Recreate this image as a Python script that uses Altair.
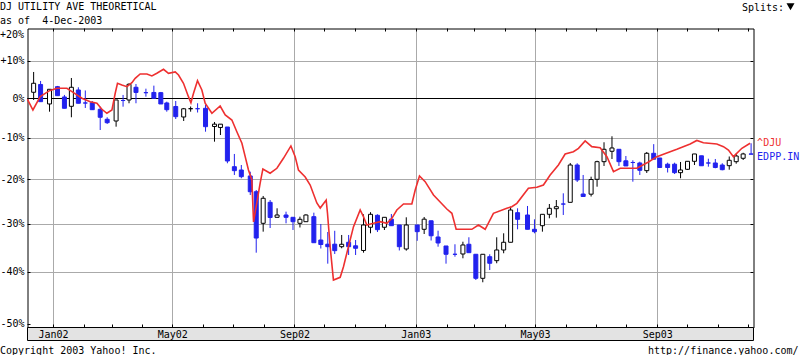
import altair as alt
import pandas as pd

BASE = pd.Timestamp("2002-01-01")
BLUE = "#2222ee"
RED = "#ee3030"
GRID = "#aaaaaa"
FONT = "DejaVu Sans Mono"

# EDPP.IN weekly candles: day offsets after 2002-01-01, values in % change
ed_day = [-20, -13, -4, 4, 11, 18, 25, 32, 39, 47,
          54, 63, 70, 76, 83, 93, 101, 108, 114, 123,
          131, 138, 145, 153, 162, 168, 175, 182, 189, 198,
          204, 211, 218, 225, 234, 241, 248, 254, 262, 269,
          276, 283, 290, 297, 304, 312, 319, 326, 333, 340,
          348, 355, 366, 373, 380, 387, 395, 404, 412, 418,
          425, 432, 439, 446, 453, 460, 467, 477, 484, 492,
          499, 506, 513, 520, 527, 533, 541, 547, 554, 562,
          569, 576, 583, 590, 597, 604, 610, 618, 625, 631,
          638, 645, 652, 659, 666, 673, 680, 687, 694, 702]
ed_open = [1.65, 3.70, -1.39, 3.12, 0.42, -1.99, 2.25, -1.13, -1.06, -2.76,
           -5.30, -5.73, -0.49, -0.36, 2.96, 1.55, 1.60, 1.55, -1.13, -2.04,
           -4.72, -2.61, -2.60, -2.50, -7.11, -7.36, -7.24, -16.90, -17.68, -19.08,
           -22.72, -29.76, -25.12, -28.45, -27.94, -28.45, -29.76, -29.41, -28.31, -33.35,
           -34.23, -34.23, -34.76, -33.83, -34.57, -35.55, -30.62, -28.01, -30.62, -28.86,
           -30.13, -35.24, -30.13, -31.06, -29.21, -32.71, -34.61, -36.34, -36.28, -34.25,
           -36.34, -41.22, -36.84, -37.66, -35.45, -33.83, -27.43, -27.94, -31.06, -30.28,
           -27.79, -26.55, -25.50, -25.12, -16.50, -23.24, -23.28, -19.86, -15.71, -13.21,
           -12.73, -15.50, -15.90, -16.02, -17.84, -13.70, -14.83, -16.31, -16.31, -18.31,
           -17.52, -15.62, -14.30, -16.02, -16.02, -16.50, -16.66, -15.71, -14.90, -13.86]
ed_high = [7.03, 4.63, 2.43, 3.31, 0.95, 5.42, 2.96, 2.12, -0.62, -2.09,
           -4.79, -0.36, 0.95, 4.02, 3.83, 2.59, 3.39, 1.73, -0.80, -0.62,
           -2.42, -2.04, -1.21, -1.65, -5.98, -6.53, -7.24, -13.86, -16.50, -18.08,
           -22.33, -23.69, -24.60, -26.46, -27.21, -28.45, -28.31, -27.79, -27.43, -29.91,
           -31.64, -31.38, -32.28, -32.28, -33.35, -27.79, -27.32, -27.79, -28.45, -27.72,
           -30.13, -28.45, -30.13, -28.38, -29.21, -31.36, -34.61, -34.25, -33.71, -32.77,
           -36.34, -36.34, -36.34, -32.77, -31.92, -26.10, -26.46, -25.94, -28.89, -27.79,
           -25.50, -24.60, -23.08, -16.02, -16.09, -18.85, -19.25, -15.48, -11.02, -9.55,
           -12.73, -14.35, -15.38, -15.71, -13.38, -11.48, -14.83, -15.95, -15.95, -15.78,
           -15.62, -13.86, -14.30, -15.00, -15.07, -16.09, -14.47, -13.79, -13.57, -11.27]
ed_low = [-0.36, -0.80, -3.37, 0.76, -2.50, -4.79, -1.21, -2.42, -2.94, -7.99,
          -6.48, -7.16, -2.09, -1.21, -1.21, 0.50, 0.08, -1.39, -3.37, -5.23,
          -5.73, -3.37, -3.58, -8.41, -10.87, -9.23, -16.09, -18.85, -19.62, -23.47,
          -36.01, -31.57, -30.78, -28.45, -29.76, -31.21, -30.67, -29.41, -33.92, -35.14,
          -38.27, -36.28, -35.09, -36.49, -36.49, -36.01, -31.92, -31.64, -31.21, -30.28,
          -35.55, -35.59, -33.52, -32.07, -33.46, -34.76, -38.27, -36.84, -37.17, -36.01,
          -41.56, -42.01, -39.56, -38.19, -36.13, -33.83, -31.06, -31.06, -31.92, -31.57,
          -28.67, -28.53, -27.94, -25.12, -20.48, -23.81, -23.81, -21.57, -16.73, -15.07,
          -16.73, -16.73, -20.41, -18.85, -18.38, -15.12, -17.09, -18.27, -18.62, -19.62,
          -17.68, -16.50, -16.68, -16.90, -17.28, -17.75, -17.61, -16.19, -15.31, -13.91]
ed_close = [4.02, -0.80, 2.43, 0.76, -2.50, 2.96, -1.21, -1.15, -2.86, -4.79,
            -6.16, -0.36, -0.50, 3.75, 1.60, 1.54, 0.08, -1.39, -2.86, -4.64,
            -2.63, -2.60, -2.61, -7.16, -6.53, -6.53, -15.55, -17.84, -19.25, -22.72,
            -32.93, -24.21, -28.49, -27.94, -28.45, -29.41, -28.89, -27.94, -33.92, -34.30,
            -34.76, -35.59, -34.25, -34.76, -35.09, -30.13, -27.79, -31.14, -28.45, -30.28,
            -34.76, -30.13, -31.57, -28.86, -32.45, -33.98, -36.34, -36.35, -34.40, -36.01,
            -41.22, -36.34, -38.19, -35.45, -33.83, -26.84, -28.89, -31.06, -31.57, -27.79,
            -26.46, -26.10, -25.51, -16.50, -20.02, -23.81, -19.91, -15.71, -12.73, -12.41,
            -15.71, -16.73, -15.91, -17.75, -13.70, -15.12, -17.09, -17.09, -18.31, -17.68,
            -15.62, -13.86, -16.68, -16.03, -17.09, -17.61, -15.38, -14.35, -13.86, -13.91]

# ^DJU line: day offsets after 2002-01-01, % change
dju_day = [-26.2, -20.7, -13.4, -4.0, 3.4, 13.5, 20.1, 28.6, 36.9, 43.7,
           48.7, 53.7, 58.8, 62.1, 64.4, 68.8, 73.9, 78.9, 82.2, 87.2,
           94.0, 99.0, 104.0, 110.7, 115.7, 122.5, 125.8, 130.8, 135.8, 138.3,
           140.9, 144.9, 149.3, 152.6, 159.4, 167.7, 172.8, 179.5, 184.5, 189.6,
           192.9, 196.2, 199.6, 200.4, 201.3, 208.0, 210.7, 218.0, 224.8, 231.4,
           238.9, 243.2, 246.5, 253.3, 258.3, 265.0, 268.4, 274.4, 275.7, 278.4,
           281.7, 288.5, 291.8, 296.8, 301.9, 308.6, 311.9, 315.3, 322.0, 328.7,
           335.5, 340.5, 345.5, 352.2, 360.6, 364.0, 368.3, 374.0, 382.4, 389.1,
           395.8, 400.9, 405.2, 421.0, 427.6, 434.4, 442.7, 456.2, 461.2, 466.3,
           477.9, 486.4, 493.0, 499.8, 508.1, 514.9, 523.2, 528.3, 535.0, 541.7,
           550.1, 556.9, 563.5, 570.3, 587.0, 598.7, 607.2, 613.8, 627.3, 640.7,
           647.4, 654.0, 667.5, 674.2, 679.2, 684.2, 692.7, 701.0]
dju_pct = [-0.18, -2.94, 0.50, 2.07, 2.70, 2.70, 1.55, 0.08, -0.80, -1.21,
           -2.76, -3.78, -2.94, 1.39, 4.02, 3.57, 3.12, 4.18, 5.34, 6.49,
           6.49, 5.96, 6.68, 7.75, 6.68, 7.03, 6.23, 4.02, 0.50, -1.06,
           1.39, 4.71, 2.25, -1.21, -3.78, -1.91, -4.21, -5.48, -8.41, -11.27,
           -14.51, -17.68, -20.02, -24.60, -29.47, -20.71, -17.44, -18.45, -17.28, -14.90,
           -11.92, -14.51, -17.68, -19.32, -21.18, -25.27, -26.39, -24.60, -27.50, -34.76,
           -41.56, -41.02, -38.89, -34.76, -30.49, -26.84, -28.31, -30.13, -29.76, -29.41,
           -29.76, -28.67, -26.84, -25.50, -25.50, -22.33, -19.08, -20.41, -23.47, -25.05,
           -26.62, -27.57, -31.06, -31.06, -30.13, -31.06, -27.57, -26.46, -26.10, -25.34,
           -21.94, -21.71, -21.18, -18.85, -16.50, -13.86, -13.31, -12.49, -10.70, -12.09,
           -12.34, -14.51, -18.08, -17.28, -17.28, -15.78, -14.51, -13.93, -12.73, -11.44,
           -10.58, -11.12, -11.44, -12.09, -12.90, -14.51, -12.49, -11.27]

y_levels = [-50, -40, -30, -20, -10, 0, 10]


def ratio(vals):
    return [1 + v / 100.0 for v in vals]


candles = pd.DataFrame({
    "date": BASE + pd.to_timedelta(ed_day, unit="D"),
    "o": ratio(ed_open), "h": ratio(ed_high),
    "l": ratio(ed_low), "c": ratio(ed_close),
})
candles["dir"] = ["up" if c >= o else "down" for o, c in zip(ed_open, ed_close)]

dju = pd.DataFrame({"date": BASE + pd.to_timedelta(dju_day, unit="D"),
                    "v": ratio(dju_pct)})

d_start = pd.Timestamp("2001-12-05 20:00")
d_end = pd.Timestamp("2003-12-06 10:00")
x_scale = alt.Scale(domain=[alt.DateTime(year=2001, month=12, date=5, hours=20),
                            alt.DateTime(year=2003, month=12, date=6, hours=10)],
                    nice=False, padding=0)
y_scale = alt.Scale(type="sqrt", domain=[0.49393, 1.19030], zero=False, nice=False, padding=0)

month_vals = [alt.DateTime(year=y, month=m, date=1) for y in (2002, 2003) for m in range(1, 13)]
y_vals = ratio(y_levels)

x_grid_axis = alt.Axis(orient="bottom", values=month_vals, grid=True, gridColor=GRID,
                       gridOpacity={"condition": {"test": "month(datum.value) % 4 == 0", "value": 1}, "value": 0},
                       labels=False, ticks=False, domain=False, title=None, translate=0)
x_label_axis = alt.Axis(orient="bottom", values=month_vals, grid=False, domain=False,
                        ticks=True, tickSize=3, tickColor="black", offset=-3,
                        labelExpr="month(datum.value) % 4 == 0 ? timeFormat(datum.value, '%b%y') : ''",
                        labelFont=FONT, labelFontSize=10, labelColor="black", labelPadding=2,
                        labelAngle=0, labelOverlap=False, labelFlush=False, zindex=1,
                        title=None, translate=0)
x_top_axis = alt.Axis(orient="top", values=month_vals, grid=False, domain=False,
                      ticks=True, tickSize=3, tickColor="black", offset=-3,
                      labels=False, title=None, translate=0)
y_left_axis = alt.Axis(orient="left", values=y_vals, grid=True,
                       gridColor={"condition": {"test": "abs(datum.value - 1) < 0.001", "value": "black"}, "value": GRID},
                       gridOpacity={"condition": {"test": "datum.value < 0.55", "value": 0}, "value": 1},
                       domain=False, ticks=True, tickSize=3, tickColor="black", offset=-3,
                       labelExpr="(datum.value > 1.0001 ? '+' : '') + round((datum.value - 1) * 100) + '%'",
                       labelFont=FONT, labelFontSize=10, labelColor="black", labelPadding=3,
                       labelOverlap=False, labelFlush=False, title=None, translate=0)
y_right_axis = alt.Axis(orient="right", values=y_vals[1:], grid=False, domain=False,
                        ticks=True, tickSize=3, tickColor="black", offset=-3,
                        labels=False, title=None, translate=0)

band = alt.Chart(pd.DataFrame({"start": [d_start], "end": [d_end]})).mark_rect(
    fill="#e3e3e3", stroke="black", strokeWidth=1
).encode(
    x=alt.X("start:T", scale=x_scale, axis=None), x2="end:T",
    y=alt.value(299), y2=alt.value(312),
)

wick = alt.Chart(candles).mark_rule(strokeWidth=1).encode(
    x=alt.X("date:T", scale=x_scale, axis=x_grid_axis),
    y=alt.Y("l:Q", scale=y_scale, axis=y_left_axis),
    y2="h:Q",
    color=alt.Color("dir:N", scale=alt.Scale(domain=["down", "up"], range=[BLUE, "black"]), legend=None),
)

body = alt.Chart(candles).mark_bar(size=4, strokeWidth=1).encode(
    x=alt.X("date:T", scale=x_scale, axis=x_label_axis),
    y=alt.Y("o:Q", scale=y_scale, axis=y_right_axis),
    y2="c:Q",
    fill=alt.Fill("dir:N", scale=alt.Scale(domain=["down", "up"], range=[BLUE, "white"]), legend=None),
    stroke=alt.Stroke("dir:N", scale=alt.Scale(domain=["down", "up"], range=[BLUE, "black"]), legend=None),
)

line = alt.Chart(dju).mark_line(color=RED, strokeWidth=1.6).encode(
    x=alt.X("date:T", scale=x_scale, axis=x_top_axis),
    y=alt.Y("v:Q", scale=y_scale, axis=None),
)

dju_lab = alt.Chart(dju.tail(1)).mark_text(
    align="left", baseline="middle", dx=7, font=FONT, fontSize=10, color=RED
).encode(x=alt.X("date:T", scale=x_scale, axis=None),
         y=alt.Y("v:Q", scale=y_scale, axis=None), text=alt.value("^DJU"))

ed_lab = alt.Chart(candles.tail(1)).mark_text(
    align="left", baseline="middle", dx=6, dy=3, font=FONT, fontSize=10, color=BLUE
).encode(x=alt.X("date:T", scale=x_scale, axis=None),
         y=alt.Y("c:Q", scale=y_scale, axis=None), text=alt.value("EDPP.IN"))


def note(text, x, y, align="left", color="black", size=10):
    return alt.Chart(pd.DataFrame({"t": [text]})).mark_text(
        align=align, baseline="alphabetic", font=FONT, fontSize=size, color=color
    ).encode(text="t:N", x=alt.value(x), y=alt.value(y))


t_title = note("DJ UTILITY AVE THEORETICAL", -27.5, -18.5)
t_sub = note("as of \u00a04-Dec-2003", -27.5, -4.5)
t_splits = note("Splits:", 714.5, -18)
t_tri = alt.Chart(pd.DataFrame({"t": [1]})).mark_point(
    shape="triangle-down", filled=True, size=64, color="black", opacity=1
).encode(x=alt.value(763), y=alt.value(-21.8))
t_top = note("+20%", -3.5, 9.2, align="right")
t_copy = note("Copyright 2003 Yahoo! Inc.", -27.5, 325.5)
t_url = note("http://finance.yahoo.com/", 771, 325.5, align="right")

chart = alt.layer(
    band, wick, body, line, dju_lab, ed_lab,
    t_title, t_sub, t_splits, t_tri, t_top, t_copy, t_url
).resolve_axis(x="independent", y="independent").properties(
    width=726, height=299,
    padding={"left": 27.5, "top": 28.5, "right": 46.5, "bottom": 27.5},
    autosize=alt.AutoSizeParams(type="none"),
    background="white",
).configure_view(stroke="black", strokeWidth=1, fill="white")

chart.save("out.html", embed_options={"renderer": "svg", "actions": False})
